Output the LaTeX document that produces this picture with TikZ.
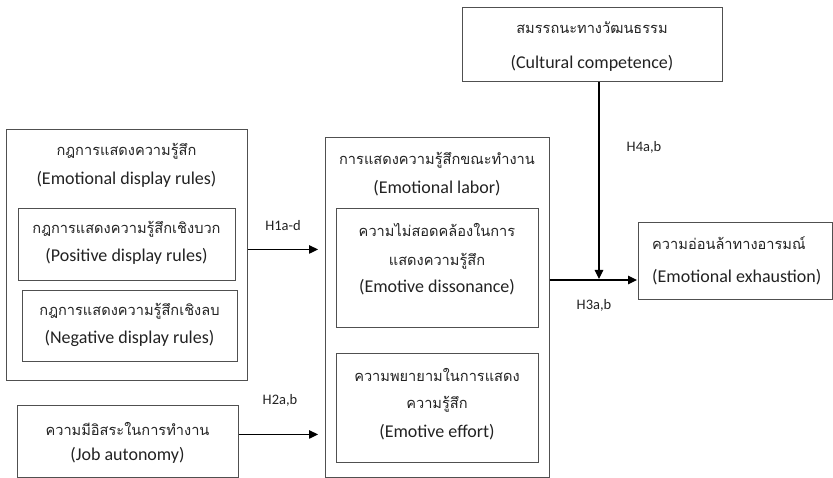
\documentclass[tikz,border=0pt]{standalone}
\usepackage{fontspec}
\setmainfont{Carlito}
\newfontfamily\thaifont[Script=Thai]{Loma}
\usetikzlibrary{arrows.meta}
\definecolor{boxgray}{HTML}{505050}
\definecolor{txt}{HTML}{222222}
\begin{document}
\begin{tikzpicture}[x=1pt,y=-1pt,
  box/.style={draw=boxgray, line width=0.9pt, inner sep=0pt, anchor=north west, rectangle},
  en/.style={font=\fontsize{18}{21}\selectfont, text=txt, inner sep=0pt},
  th/.style={font=\thaifont\fontsize{14.6}{18}\selectfont, text=txt, inner sep=0pt},
  lab/.style={font=\fontsize{14.5}{17}\selectfont, text=txt, inner sep=0pt},
  arr/.style={-{Triangle[length=9pt,width=8.5pt]}, line width=1.2pt, draw=black}
]
\useasboundingbox (0,0) rectangle (833,478);

% boxes
\node[box, minimum width=241pt, minimum height=251pt] (disp) at (6,129) {};
\node[box, minimum width=217pt, minimum height=72pt] (pos) at (18,208) {};
\node[box, minimum width=215pt, minimum height=71pt] (neg) at (22,290) {};
\node[box, minimum width=221pt, minimum height=72pt] (job) at (17,405) {};
\node[box, minimum width=224pt, minimum height=340pt] (labor) at (325,137) {};
\node[box, minimum width=202pt, minimum height=119pt] (diss) at (336,208) {};
\node[box, minimum width=202pt, minimum height=109pt] (eff) at (336,353) {};
\node[box, minimum width=260pt, minimum height=74pt] (cult) at (462,7) {};
\node[box, minimum width=194pt, minimum height=77pt] (exh) at (638,222) {};

% texts
\node[th] (dispTh) at (126.5,151) {กฎการแสดงความรู้สึก};
\node[en] (dispEn) at (126.5,179) {(Emotional display rules)};
\node[th] (posTh) at (126.5,229) {กฎการแสดงความรู้สึกเชิงบวก};
\node[en] (posEn) at (126.5,256) {(Positive display rules)};
\node[th] (negTh) at (129.5,311) {กฎการแสดงความรู้สึกเชิงลบ};
\node[en] (negEn) at (129.5,338) {(Negative display rules)};
\node[th] (jobTh) at (127.5,429) {ความมีอิสระในการทำงาน};
\node[en] (jobEn) at (127.5,455) {(Job autonomy)};
\node[th] (labTh) at (437,160) {การแสดงความรู้สึกขณะทำงาน};
\node[en] (labEn) at (437,188) {(Emotional labor)};
\node[th] (dissTh1) at (437,230) {ความไม่สอดคล้องในการ};
\node[th] (dissTh2) at (437,261) {แสดงความรู้สึก};
\node[en] (dissEn) at (437,287) {(Emotive dissonance)};
\node[th] (effTh1) at (437,375) {ความพยายามในการแสดง};
\node[th] (effTh2) at (437,404) {ความรู้สึก};
\node[en] (effEn) at (437,432) {(Emotive effort)};
\node[th] (cultTh) at (592,28) {สมรรถนะทางวัฒนธรรม};
\node[en] (cultEn) at (592,63) {(Cultural competence)};
\node[th, anchor=west] (exhTh) at (652,243) {ความอ่อนล้าทางอารมณ์};
\node[en, anchor=west] (exhEn) at (652,277) {(Emotional exhaustion)};

% connectors
\coordinate (j) at (599,280);
\draw[arr, shorten >=7pt] ([yshift=5.5pt]disp.east) -- ([yshift=5.5pt]disp.east -| labor.west);
\draw[arr, shorten >=7pt] ([yshift=7pt]job.east) -- ([yshift=7pt]job.east -| labor.west);
\draw[arr, shorten >=1pt] (labor.east |- j) -- (exh.west |- j);
\draw[arr, shorten >=1pt] (cult.south -| j) -- (j);

% labels
\node[lab] (h1) at (283,226) {H1a-d};
\node[lab] (h2) at (280,400) {H2a,b};
\node[lab] (h3) at (594,305) {H3a,b};
\node[lab] (h4) at (644,147) {H4a,b};
\end{tikzpicture}
\end{document}
